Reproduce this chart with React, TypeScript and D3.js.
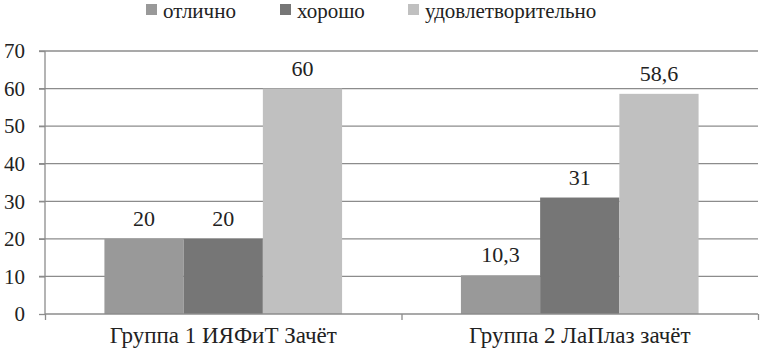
import React, { useEffect, useRef } from 'react';
import * as d3 from 'd3';

const groups = ['Группа 1 ИЯФиТ Зачёт', 'Группа 2 ЛаПлаз зачёт'];
const seriesNames = ['отлично', 'хорошо', 'удовлетворительно'];
const excellent = [20, 10.3];
const good = [20, 31];
const satisfactory = [60, 58.6];
const yTicks = [0, 10, 20, 30, 40, 50, 60, 70];
const colors = ['#999999', '#767676', '#c0c0c0'];

const FONT = "'Liberation Serif', 'DejaVu Serif', serif";

const App = () => {
  const ref = useRef<SVGSVGElement>(null);

  useEffect(() => {
    const svg = d3.select(ref.current);
    svg.selectAll('*').remove();

    const width = 760;
    const height = 358;
    const margin = { top: 51, right: 2, bottom: 44, left: 45 };
    const values = [excellent, good, satisfactory];

    const y = d3.scaleLinear().domain([0, 70]).range([height - margin.bottom, margin.top]);
    const x0 = d3.scaleBand().domain(groups).range([margin.left, width - margin.right])
      .paddingInner(1 / 3).paddingOuter(1 / 6);
    const x1 = d3.scaleBand().domain(seriesNames).range([0, x0.bandwidth()]);

    // gridlines
    svg.append('g')
      .selectAll('line')
      .data(yTicks.slice(1))
      .enter()
      .append('line')
      .attr('x1', margin.left - 6)
      .attr('x2', width - margin.right)
      .attr('y1', d => y(d))
      .attr('y2', d => y(d))
      .attr('stroke', '#8c8c8c')
      .attr('stroke-width', 1.3);

    // bars + value labels
    groups.forEach((g, gi) => {
      seriesNames.forEach((s, si) => {
        const v = values[si][gi];
        svg.append('rect')
          .attr('x', (x0(g) || 0) + (x1(s) || 0))
          .attr('y', y(v))
          .attr('width', x1.bandwidth())
          .attr('height', y(0) - y(v))
          .attr('fill', colors[si]);
        svg.append('text')
          .attr('x', (x0(g) || 0) + (x1(s) || 0) + x1.bandwidth() / 2)
          .attr('y', y(v) - 13)
          .attr('text-anchor', 'middle')
          .attr('font-family', FONT)
          .attr('font-size', 22)
          .attr('fill', '#222')
          .text(String(v).replace('.', ','));
      });
    });

    // y axis
    const yAxis = svg.append('g')
      .attr('transform', `translate(${margin.left},0)`)
      .call(d3.axisLeft(y).tickValues(yTicks).tickSize(6).tickPadding(14));
    yAxis.attr('font-family', FONT).attr('font-size', 21);
    yAxis.select('.domain').attr('stroke', '#8c8c8c').attr('stroke-width', 1.3).attr('d', `M0,${y(70)}V${y(0)}`);
    yAxis.selectAll('line').attr('stroke', '#8c8c8c').attr('stroke-width', 1.3);
    yAxis.selectAll('text').attr('fill', '#222');

    // x axis
    const xAxisScale = d3.scaleLinear().domain([0, 2]).range([margin.left, width - margin.right]);
    const xAxis = svg.append('g')
      .attr('transform', `translate(0,${y(0)})`)
      .call(d3.axisBottom(xAxisScale).tickValues([0, 1, 2]).tickSize(6).tickFormat(() => ''));
    xAxis.select('.domain').attr('stroke', '#8c8c8c').attr('stroke-width', 1.3).attr('d', `M${margin.left},0H${width - margin.right}`);
    xAxis.selectAll('line').attr('stroke', '#8c8c8c').attr('stroke-width', 1.3);

    svg.append('g')
      .selectAll('text')
      .data(groups)
      .enter()
      .append('text')
      .attr('x', d => (x0(d) || 0) + x0.bandwidth() / 2)
      .attr('y', y(0) + 29)
      .attr('text-anchor', 'middle')
      .attr('font-family', FONT)
      .attr('font-size', 23)
      .attr('fill', '#222')
      .text(d => d);

    // legend
    const legendX = [146, 280, 408];
    const legend = svg.append('g');
    seriesNames.forEach((s, i) => {
      legend.append('rect')
        .attr('x', legendX[i])
        .attr('y', 4)
        .attr('width', 11)
        .attr('height', 11)
        .attr('fill', colors[i]);
      legend.append('text')
        .attr('x', legendX[i] + 17)
        .attr('y', 18)
        .attr('font-family', FONT)
        .attr('font-size', 21)
        .attr('fill', '#222')
        .text(s);
    });
  }, []);

  return (
    <div style={{ position: 'absolute', left: 0, top: 0 }}>
      <svg ref={ref} width={760} height={358} style={{ display: 'block', background: '#fff' }} />
    </div>
  );
};

export default App;
